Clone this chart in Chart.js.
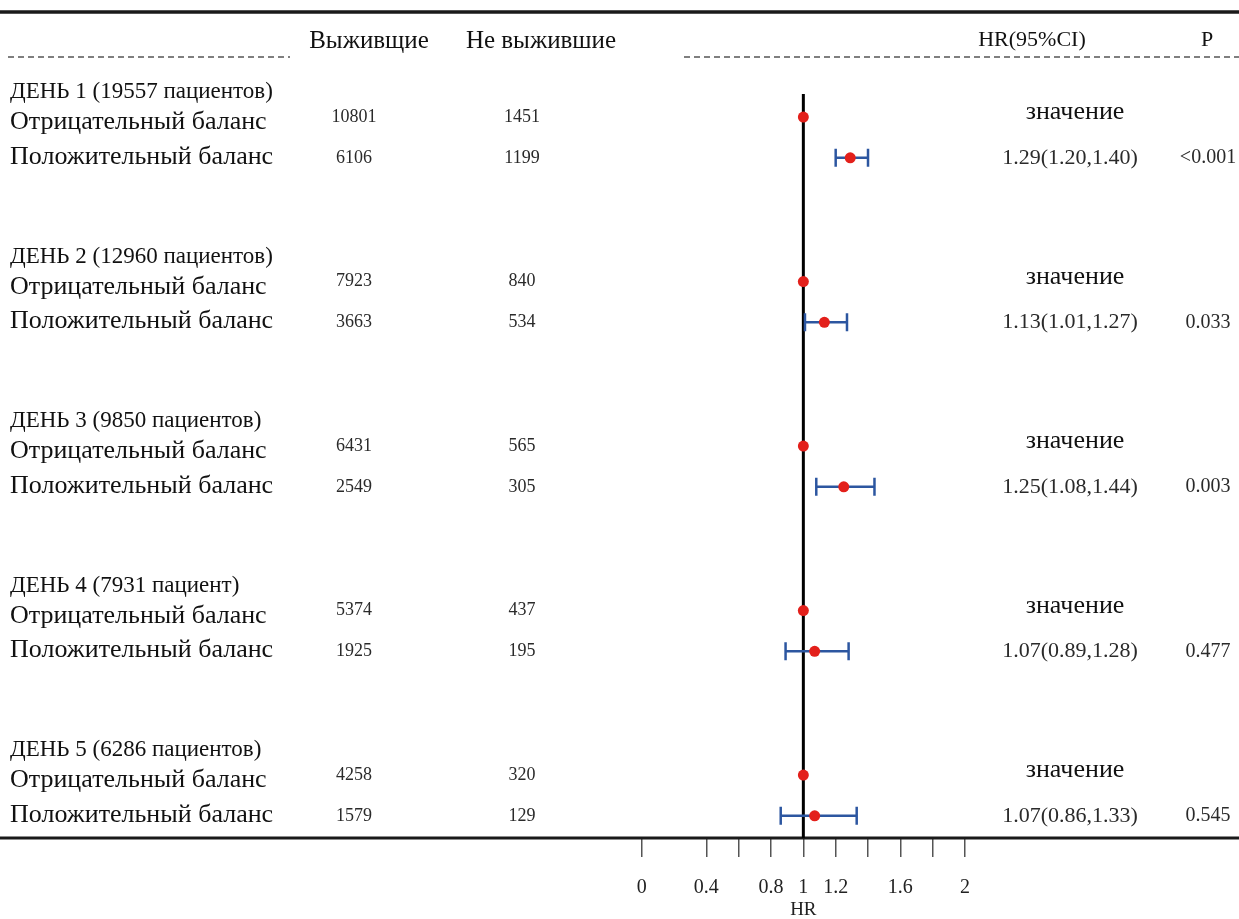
<!DOCTYPE html>
<html>
<head>
<meta charset="utf-8">
<script src="https://cdn.jsdelivr.net/npm/chart.js@4.4.0/dist/chart.umd.min.js"></script>
<style>
  html, body { margin: 0; padding: 0; background: #fff; }
  #wrap { width: 1239px; height: 919px; position: relative; }
</style>
</head>
<body>
<div id="wrap"><canvas id="forest"></canvas></div>
<script>
// данные по дням
const dayLabels = [
  'ДЕНЬ 1 (19557 пациентов)',
  'ДЕНЬ 2 (12960 пациентов)',
  'ДЕНЬ 3 (9850 пациентов)',
  'ДЕНЬ 4 (7931 пациент)',
  'ДЕНЬ 5 (6286 пациентов)'
];
const negLabel = 'Отрицательный баланс';
const posLabel = 'Положительный баланс';
const survivedNeg = [10801, 7923, 6431, 5374, 4258];
const diedNeg = [1451, 840, 565, 437, 320];
const survivedPos = [6106, 3663, 2549, 1925, 1579];
const diedPos = [1199, 534, 305, 195, 129];
const hr = [1.29, 1.13, 1.25, 1.07, 1.07];
const ciLow = [1.20, 1.01, 1.08, 0.89, 0.86];
const ciHigh = [1.40, 1.27, 1.44, 1.28, 1.33];
const pValues = ['<0.001', '0.033', '0.003', '0.477', '0.545'];
const refValue = 1;
const refText = 'значение';

const xTicks = [0, 0.4, 0.6, 0.8, 1, 1.2, 1.4, 1.6, 1.8, 2];
const xTickLabels = ['0', '0.4', '', '0.8', '1', '1.2', '', '1.6', '', '2'];

// вертикальная раскладка: каждый день занимает 4 "строки"
const yMin = -1.945, yMax = 18.14;
const groupY = g => g * 4;
const negY = g => groupY(g) + 0.61;
const posY = g => groupY(g) + 1.6;

const SERIF = '"Liberation Serif", "Times New Roman", serif';
const BLUE = '#2c56a0';
const RED = '#e3201b';

// точки: отрицательный баланс = 1, положительный = HR
const dotPoints = hr.map((v, g) => ({ x: refValue, y: negY(g) }))
  .concat(hr.map((v, g) => ({ x: v, y: posY(g) })));

const ciDatasets = hr.map((v, g) => ({
  data: [{ x: ciLow[g], y: posY(g) }, { x: ciHigh[g], y: posY(g) }],
  showLine: true,
  borderColor: BLUE,
  borderWidth: 2.5,
  pointStyle: 'line',
  rotation: 90,
  pointRadius: 9,
  pointBorderColor: BLUE,
  pointBorderWidth: 2.5
}));

const tablePlugin = {
  id: 'table',
  beforeDatasetsDraw(chart) {
    const ctx = chart.ctx;
    const y = chart.scales.y;
    const W = chart.width;
    const area = chart.chartArea;
    ctx.save();
    ctx.strokeStyle = '#1a1a1a';
    ctx.lineWidth = 3.5;
    ctx.beginPath(); ctx.moveTo(0, area.top); ctx.lineTo(W, area.top); ctx.stroke();
    ctx.lineWidth = 3;
    ctx.beginPath(); ctx.moveTo(0, area.bottom); ctx.lineTo(W, area.bottom); ctx.stroke();

    // пунктир под заголовком
    const dy = y.getPixelForValue(-0.85);
    ctx.setLineDash([6, 4]);
    ctx.lineWidth = 1.5;
    ctx.strokeStyle = '#555';
    ctx.beginPath(); ctx.moveTo(8, dy); ctx.lineTo(290, dy); ctx.stroke();
    ctx.beginPath(); ctx.moveTo(684, dy); ctx.lineTo(W, dy); ctx.stroke();
    ctx.restore();
  },
  afterDraw(chart) {
    const ctx = chart.ctx;
    const y = chart.scales.y;
    ctx.save();
    ctx.textBaseline = 'middle';
    const txt = (s, x, v, size, align, color) => {
      ctx.font = size + 'px ' + SERIF;
      ctx.textAlign = align;
      ctx.fillStyle = color || '#111';
      ctx.fillText(s, x, y.getPixelForValue(v));
    };

    // заголовки
    txt('Выживщие', 369, -1.22, 25, 'center');
    txt('Не выжившие', 541, -1.22, 25, 'center');
    txt('HR(95%CI)', 1032, -1.27, 22, 'center');
    txt('P', 1207, -1.27, 22, 'center');

    dayLabels.forEach((d, g) => {
      txt(d, 10, groupY(g), 23, 'left');
      txt(negLabel, 10, groupY(g) + 0.74, 26, 'left');
      txt(posLabel, 10, groupY(g) + 1.58, 26, 'left');
      txt(String(survivedNeg[g]), 354, negY(g), 18, 'center', '#2a2a2a');
      txt(String(diedNeg[g]), 522, negY(g), 18, 'center', '#2a2a2a');
      txt(String(survivedPos[g]), 354, posY(g), 18, 'center', '#2a2a2a');
      txt(String(diedPos[g]), 522, posY(g), 18, 'center', '#2a2a2a');
      txt(refText, 1075, groupY(g) + 0.5, 26, 'center');
      const hrStr = hr[g].toFixed(2) + '(' + ciLow[g].toFixed(2) + ',' + ciHigh[g].toFixed(2) + ')';
      txt(hrStr, 1070, posY(g), 22, 'center', '#2a2a2a');
      txt(pValues[g], 1208, posY(g), 20, 'center', '#2a2a2a');
    });

    // подпись оси
    ctx.font = '19px ' + SERIF;
    ctx.textAlign = 'center';
    ctx.fillStyle = '#222';
    ctx.fillText('HR', chart.scales.x.getPixelForValue(refValue), chart.chartArea.bottom + 72);
    ctx.restore();
  }
};

new Chart(document.getElementById('forest'), {
  type: 'scatter',
  data: {
    datasets: [
      {
        data: dotPoints,
        pointRadius: 5.5,
        pointBackgroundColor: RED,
        pointBorderWidth: 0
      },
      ...ciDatasets,
      {
        data: [{ x: refValue, y: 0.05 }, { x: refValue, y: yMax }],
        showLine: true,
        borderColor: '#000',
        borderWidth: 3,
        pointRadius: 0
      }
    ]
  },
  options: {
    responsive: true,
    maintainAspectRatio: false,
    animation: false,
    events: [],
    layout: { padding: { left: 641.7, right: 274, top: 12, bottom: 0 } },
    plugins: { legend: { display: false }, tooltip: { enabled: false } },
    scales: {
      x: {
        type: 'linear',
        min: 0,
        max: 2,
        afterBuildTicks: scale => { scale.ticks = xTicks.map(v => ({ value: v })); },
        afterFit: scale => { scale.height = 81; },
        grid: { drawOnChartArea: false, drawTicks: true, tickLength: 19, color: '#555', lineWidth: 1.5 },
        border: { display: false },
        ticks: {
          autoSkip: false,
          maxRotation: 0,
          padding: 19,
          color: '#222',
          font: { family: SERIF, size: 20 },
          callback: (val, i) => xTickLabels[i]
        }
      },
      y: { type: 'linear', min: yMin, max: yMax, reverse: true, display: false }
    }
  },
  plugins: [tablePlugin]
});
</script>
</body>
</html>
